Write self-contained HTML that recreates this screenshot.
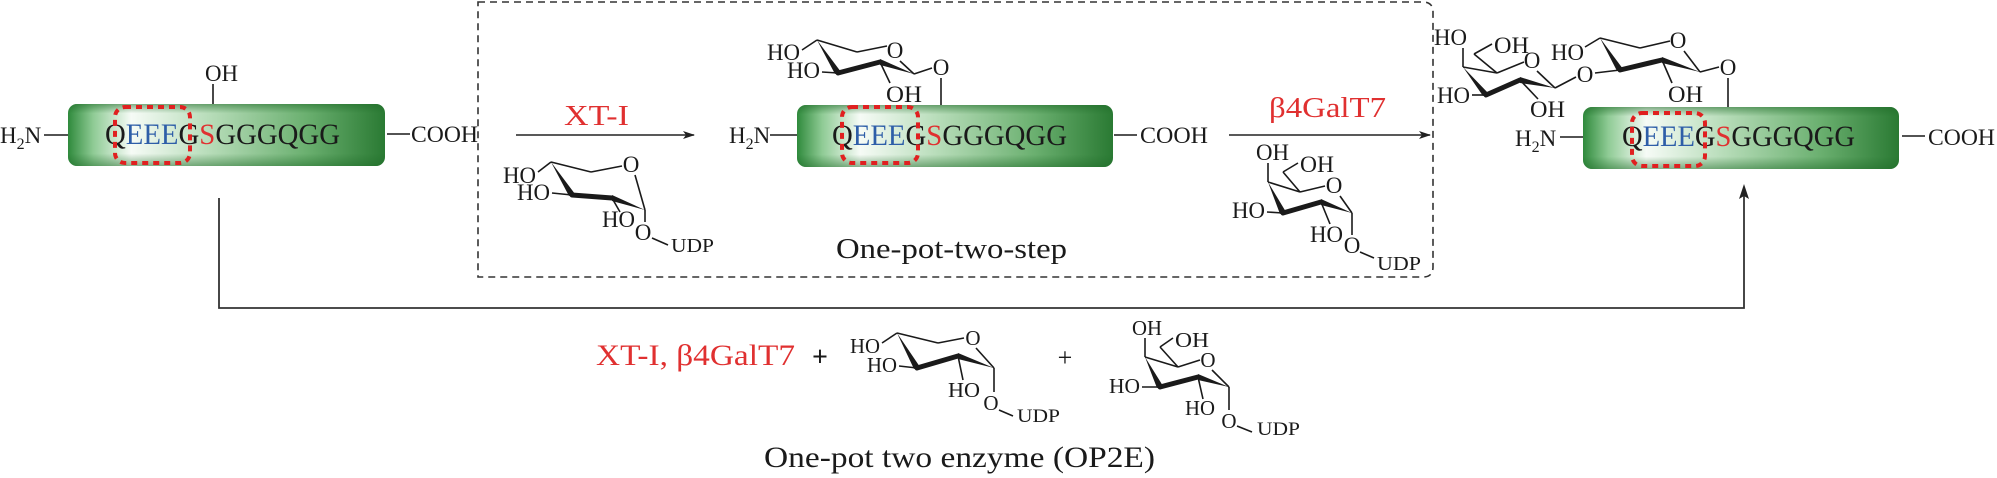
<!DOCTYPE html>
<html><head><meta charset="utf-8"><style>
html,body{margin:0;padding:0;background:#fff;}
svg{display:block;font-family:"Liberation Serif","Times New Roman",Times,serif;}
text{font-family:"Liberation Serif","Times New Roman",Times,serif;fill:#1a1a1a;}
.s{font-size:23px;}
.b{stroke:#1a1a1a;stroke-width:1.6;fill:none;}
.k{stroke:#1a1a1a;stroke-width:5;stroke-linecap:round;fill:none;}
.w{fill:#1a1a1a;}
</style></head><body>
<svg width="1997" height="478" viewBox="0 0 1997 478" xmlns="http://www.w3.org/2000/svg" font-family="Liberation Serif, serif">
<defs>
<linearGradient id="gh" x1="0" y1="0" x2="1" y2="0">
<stop offset="0" stop-color="#2f8a3c"/>
<stop offset="0.08" stop-color="#8fcb95"/>
<stop offset="0.2" stop-color="#f6fbf6"/>
<stop offset="0.45" stop-color="#b6dcb8"/>
<stop offset="0.75" stop-color="#6bb070"/>
<stop offset="1" stop-color="#2a7a33"/>
</linearGradient>
<linearGradient id="gv" x1="0" y1="0" x2="0" y2="1">
<stop offset="0" stop-color="#1f6b28" stop-opacity="0.55"/>
<stop offset="0.15" stop-color="#1f6b28" stop-opacity="0"/>
<stop offset="0.8" stop-color="#1f6b28" stop-opacity="0"/>
<stop offset="1" stop-color="#1f6b28" stop-opacity="0.5"/>
</linearGradient>
<marker id="ah" markerWidth="12" markerHeight="8" refX="11" refY="4" orient="auto" markerUnits="userSpaceOnUse">
<path d="M0,0 L12,4 L0,8 L3,4 Z" fill="#222"/>
</marker>
</defs>

<path d="M478,2 H1423 Q1433,2 1433,12 V267 Q1433,277 1423,277 H478 Z" fill="none" stroke="#333" stroke-width="1.6" stroke-dasharray="7 5"/>

<!-- Peptide 1 -->
<g transform="translate(68,104)">
<rect x="0" y="0" width="317" height="62" rx="9" fill="url(#gh)"/>
<rect x="0" y="0" width="317" height="62" rx="9" fill="url(#gv)"/>
<text x="37" y="40" font-size="30" textLength="235" lengthAdjust="spacingAndGlyphs">Q<tspan fill="#2e5ea8">EEE</tspan>G<tspan fill="#e03030">S</tspan>GGGQGG</text>
<rect x="47" y="3" width="75" height="56" rx="10" fill="none" stroke="#e02020" stroke-width="4" stroke-dasharray="6 5"/>
</g>
<text class="s" x="0" y="143">H<tspan font-size="16" dy="6">2</tspan><tspan dy="-6">N</tspan></text>
<line class="b" x1="44" y1="135" x2="68" y2="135"/>
<line class="b" x1="387" y1="134" x2="410" y2="134"/>
<text class="s" x="411" y="142" textLength="67" lengthAdjust="spacingAndGlyphs">COOH</text>
<text class="s" x="205" y="81" textLength="33" lengthAdjust="spacingAndGlyphs">OH</text>
<line class="b" x1="213" y1="84" x2="213" y2="104"/>

<line x1="516" y1="135" x2="694" y2="135" stroke="#222" stroke-width="1.6" marker-end="url(#ah)"/>
<text x="564" y="125" font-size="29" textLength="65" lengthAdjust="spacingAndGlyphs" style="fill:#e03030">XT-I</text>

<!-- UDP-Xyl 1 -->
<g>
<line class="b" x1="551" y1="162" x2="591" y2="172"/>
<line class="b" x1="591" y1="172" x2="622" y2="166"/>
<text class="s" x="631" y="172" text-anchor="middle">O</text>
<line class="b" x1="635" y1="175" x2="645" y2="210"/>
<polygon class="w" points="551,162 569,196 575,194"/>
<line class="k" x1="572" y1="195" x2="612" y2="198"/>
<polygon class="w" points="612,195 612,201 645,210"/>
<text class="s" x="503" y="183" textLength="33" lengthAdjust="spacingAndGlyphs">HO</text>
<line class="b" x1="551" y1="162" x2="538" y2="172"/>
<text class="s" x="517" y="200" textLength="33" lengthAdjust="spacingAndGlyphs">HO</text>
<line class="b" x1="572" y1="195" x2="552" y2="193"/>
<line class="b" x1="612" y1="198" x2="620" y2="212"/>
<text class="s" x="602" y="227" textLength="33" lengthAdjust="spacingAndGlyphs">HO</text>
<line class="b" x1="645" y1="210" x2="645" y2="222"/>
<text class="s" x="643" y="240" text-anchor="middle">O</text>
<line class="b" x1="652" y1="238" x2="668" y2="245"/>
<text x="671" y="252" font-size="20" textLength="43" lengthAdjust="spacingAndGlyphs">UDP</text>
</g>

<!-- Peptide 2 -->
<g transform="translate(797,105)">
<rect x="0" y="0" width="316" height="62" rx="9" fill="url(#gh)"/>
<rect x="0" y="0" width="316" height="62" rx="9" fill="url(#gv)"/>
<text x="35" y="40" font-size="30" textLength="235" lengthAdjust="spacingAndGlyphs">Q<tspan fill="#2e5ea8">EEE</tspan>G<tspan fill="#e03030">S</tspan>GGGQGG</text>
<rect x="45" y="2" width="76" height="56" rx="10" fill="none" stroke="#e02020" stroke-width="4" stroke-dasharray="6 5"/>
</g>
<text class="s" x="729" y="143">H<tspan font-size="16" dy="6">2</tspan><tspan dy="-6">N</tspan></text>
<line class="b" x1="770" y1="135" x2="797" y2="135"/>
<line class="b" x1="1114" y1="135" x2="1137" y2="135"/>
<text class="s" x="1140" y="143" textLength="68" lengthAdjust="spacingAndGlyphs">COOH</text>

<g>
<line class="b" x1="817" y1="40" x2="857" y2="52"/>
<line class="b" x1="857" y1="52" x2="887" y2="46"/>
<text class="s" x="895" y="58" text-anchor="middle">O</text>
<line class="b" x1="900" y1="61" x2="914" y2="74"/>
<polygon class="w" points="817,40 835,74 841,72"/>
<line class="k" x1="838" y1="73" x2="880" y2="62"/>
<polygon class="w" points="880,59 880,65 914,74"/>
<line class="b" x1="914" y1="74" x2="932" y2="68"/>
<text class="s" x="941" y="75" text-anchor="middle">O</text>
<line class="b" x1="941" y1="78" x2="941" y2="105"/>
<text class="s" x="767" y="60" textLength="33" lengthAdjust="spacingAndGlyphs">HO</text>
<line class="b" x1="817" y1="40" x2="802" y2="50"/>
<text class="s" x="787" y="78" textLength="33" lengthAdjust="spacingAndGlyphs">HO</text>
<line class="b" x1="838" y1="73" x2="822" y2="72"/>
<line class="b" x1="880" y1="62" x2="890" y2="83"/>
<text class="s" x="886" y="102" textLength="36" lengthAdjust="spacingAndGlyphs">OH</text>
</g>

<line x1="1229" y1="135" x2="1430" y2="135" stroke="#222" stroke-width="1.6" marker-end="url(#ah)"/>
<text x="1269" y="117" font-size="29" textLength="117" lengthAdjust="spacingAndGlyphs" style="fill:#e03030">β4GalT7</text>

<!-- UDP-Gal 1 -->
<g>
<line class="b" x1="1268" y1="182" x2="1268" y2="163"/>
<text class="s" x="1256" y="160" textLength="33" lengthAdjust="spacingAndGlyphs">OH</text>
<line class="b" x1="1268" y1="182" x2="1300" y2="192"/>
<line class="b" x1="1300" y1="192" x2="1283" y2="172"/>
<line class="b" x1="1283" y1="172" x2="1298" y2="163"/>
<text class="s" x="1300" y="172" textLength="34" lengthAdjust="spacingAndGlyphs">OH</text>
<line class="b" x1="1300" y1="192" x2="1325" y2="186"/>
<text class="s" x="1334" y="193" text-anchor="middle">O</text>
<line class="b" x1="1340" y1="196" x2="1352" y2="213"/>
<polygon class="w" points="1268,182 1280,214 1286,212"/>
<line class="k" x1="1283" y1="213" x2="1321" y2="202"/>
<polygon class="w" points="1321,199 1321,205 1352,213"/>
<text class="s" x="1232" y="218" textLength="33" lengthAdjust="spacingAndGlyphs">HO</text>
<line class="b" x1="1283" y1="213" x2="1267" y2="212"/>
<line class="b" x1="1321" y1="202" x2="1330" y2="224"/>
<text class="s" x="1310" y="242" textLength="33" lengthAdjust="spacingAndGlyphs">HO</text>
<line class="b" x1="1352" y1="213" x2="1352" y2="235"/>
<text class="s" x="1352" y="253" text-anchor="middle">O</text>
<line class="b" x1="1360" y1="252" x2="1374" y2="258"/>
<text x="1377" y="270" font-size="20" textLength="44" lengthAdjust="spacingAndGlyphs">UDP</text>
</g>

<text x="836" y="258" font-size="29" textLength="231" lengthAdjust="spacingAndGlyphs">One-pot-two-step</text>

<!-- Peptide 3 -->
<g transform="translate(1583,107)">
<rect x="0" y="0" width="316" height="62" rx="9" fill="url(#gh)"/>
<rect x="0" y="0" width="316" height="62" rx="9" fill="url(#gv)"/>
<text x="39" y="39" font-size="30" textLength="233" lengthAdjust="spacingAndGlyphs">Q<tspan fill="#2e5ea8">EEE</tspan>G<tspan fill="#e03030">S</tspan>GGGQGG</text>
<rect x="49" y="6" width="73" height="53" rx="10" fill="none" stroke="#e02020" stroke-width="4" stroke-dasharray="6 5"/>
</g>
<text class="s" x="1515" y="146">H<tspan font-size="16" dy="6">2</tspan><tspan dy="-6">N</tspan></text>
<line class="b" x1="1560" y1="137" x2="1583" y2="137"/>
<line class="b" x1="1902" y1="136" x2="1925" y2="136"/>
<text class="s" x="1928" y="145" textLength="67" lengthAdjust="spacingAndGlyphs">COOH</text>

<g>
<line class="b" x1="1600" y1="38" x2="1640" y2="48"/>
<line class="b" x1="1640" y1="48" x2="1670" y2="41"/>
<text class="s" x="1678" y="48" text-anchor="middle">O</text>
<line class="b" x1="1684" y1="51" x2="1700" y2="72"/>
<polygon class="w" points="1600,38 1617,71 1623,69"/>
<line class="k" x1="1620" y1="70" x2="1662" y2="60"/>
<polygon class="w" points="1662,57 1662,63 1700,72"/>
<line class="b" x1="1700" y1="72" x2="1719" y2="67"/>
<text class="s" x="1728" y="75" text-anchor="middle">O</text>
<line class="b" x1="1728" y1="78" x2="1728" y2="107"/>
<text class="s" x="1551" y="60" textLength="33" lengthAdjust="spacingAndGlyphs">HO</text>
<line class="b" x1="1600" y1="38" x2="1585" y2="47"/>
<line class="b" x1="1662" y1="60" x2="1672" y2="83"/>
<text class="s" x="1668" y="102" textLength="35" lengthAdjust="spacingAndGlyphs">OH</text>
<text class="s" x="1585" y="82" text-anchor="middle">O</text>
<line class="b" x1="1595" y1="73" x2="1620" y2="70"/>
</g>
<g>
<text class="s" x="1434" y="45" textLength="33" lengthAdjust="spacingAndGlyphs">HO</text>
<line class="b" x1="1463" y1="67" x2="1463" y2="48"/>
<line class="b" x1="1463" y1="67" x2="1497" y2="73"/>
<line class="b" x1="1497" y1="73" x2="1474" y2="54"/>
<line class="b" x1="1474" y1="54" x2="1492" y2="44"/>
<text class="s" x="1494" y="53" textLength="35" lengthAdjust="spacingAndGlyphs">OH</text>
<line class="b" x1="1497" y1="73" x2="1524" y2="62"/>
<text class="s" x="1532" y="68" text-anchor="middle">O</text>
<line class="b" x1="1537" y1="71" x2="1555" y2="88"/>
<polygon class="w" points="1463,67 1483,96 1489,94"/>
<line class="k" x1="1486" y1="95" x2="1520" y2="80"/>
<polygon class="w" points="1520,77 1520,83 1555,88"/>
<line class="b" x1="1555" y1="88" x2="1576" y2="77"/>
<text class="s" x="1437" y="103" textLength="33" lengthAdjust="spacingAndGlyphs">HO</text>
<line class="b" x1="1486" y1="95" x2="1472" y2="95"/>
<line class="b" x1="1520" y1="80" x2="1538" y2="99"/>
<text class="s" x="1530" y="117" textLength="35" lengthAdjust="spacingAndGlyphs">OH</text>
</g>

<polyline points="219,198 219,308 1744,308 1744,190" fill="none" stroke="#333" stroke-width="1.8"/>
<path d="M1744,184 L1739,199 L1744,196 L1749,199 Z" fill="#222"/>

<text x="596" y="365" font-size="30" textLength="199" lengthAdjust="spacingAndGlyphs" style="fill:#e03030">XT-I, β4GalT7</text>
<text x="820" y="366" font-size="28" font-weight="bold" text-anchor="middle">+</text>
<text x="1065" y="366" font-size="26" text-anchor="middle">+</text>

<g>
<line class="b" x1="897" y1="333" x2="938" y2="343"/>
<line class="b" x1="938" y1="343" x2="964" y2="338"/>
<text x="973" y="345" text-anchor="middle" font-size="21">O</text>
<line class="b" x1="976" y1="348" x2="994" y2="368"/>
<polygon class="w" points="897,333 914,369 920,367"/>
<line class="k" x1="917" y1="368" x2="958" y2="356"/>
<polygon class="w" points="958,353 958,359 994,368"/>
<text x="850" y="353" font-size="21" textLength="30" lengthAdjust="spacingAndGlyphs">HO</text>
<line class="b" x1="897" y1="333" x2="882" y2="343"/>
<text x="867" y="372" font-size="21" textLength="30" lengthAdjust="spacingAndGlyphs">HO</text>
<line class="b" x1="917" y1="368" x2="899" y2="366"/>
<line class="b" x1="958" y1="356" x2="963" y2="380"/>
<text x="948" y="397" font-size="21" textLength="32" lengthAdjust="spacingAndGlyphs">HO</text>
<line class="b" x1="994" y1="368" x2="994" y2="392"/>
<text x="991" y="410" font-size="21" text-anchor="middle">O</text>
<line class="b" x1="999" y1="410" x2="1013" y2="416"/>
<text x="1017" y="422" font-size="19" textLength="43" lengthAdjust="spacingAndGlyphs">UDP</text>
</g>

<g>
<text x="1132" y="335" font-size="21" textLength="30" lengthAdjust="spacingAndGlyphs">OH</text>
<line class="b" x1="1145" y1="357" x2="1145" y2="338"/>
<line class="b" x1="1145" y1="357" x2="1178" y2="367"/>
<line class="b" x1="1178" y1="367" x2="1160" y2="347"/>
<line class="b" x1="1160" y1="347" x2="1173" y2="338"/>
<text x="1175" y="347" font-size="21" textLength="34" lengthAdjust="spacingAndGlyphs">OH</text>
<line class="b" x1="1178" y1="367" x2="1200" y2="360"/>
<text x="1208" y="367" font-size="21" text-anchor="middle">O</text>
<line class="b" x1="1212" y1="370" x2="1229" y2="387"/>
<polygon class="w" points="1145,357 1157,388 1163,386"/>
<line class="k" x1="1160" y1="387" x2="1198" y2="377"/>
<polygon class="w" points="1198,374 1198,380 1229,387"/>
<text x="1109" y="393" font-size="21" textLength="31" lengthAdjust="spacingAndGlyphs">HO</text>
<line class="b" x1="1160" y1="387" x2="1142" y2="387"/>
<line class="b" x1="1198" y1="377" x2="1203" y2="399"/>
<text x="1185" y="415" font-size="21" textLength="30" lengthAdjust="spacingAndGlyphs">HO</text>
<line class="b" x1="1229" y1="387" x2="1229" y2="410"/>
<text x="1229" y="428" font-size="21" text-anchor="middle">O</text>
<line class="b" x1="1237" y1="426" x2="1252" y2="432"/>
<text x="1257" y="435" font-size="19" textLength="43" lengthAdjust="spacingAndGlyphs">UDP</text>
</g>

<text x="764" y="467" font-size="30" textLength="391" lengthAdjust="spacingAndGlyphs">One-pot two enzyme (OP2E)</text>
</svg>
</body></html>
